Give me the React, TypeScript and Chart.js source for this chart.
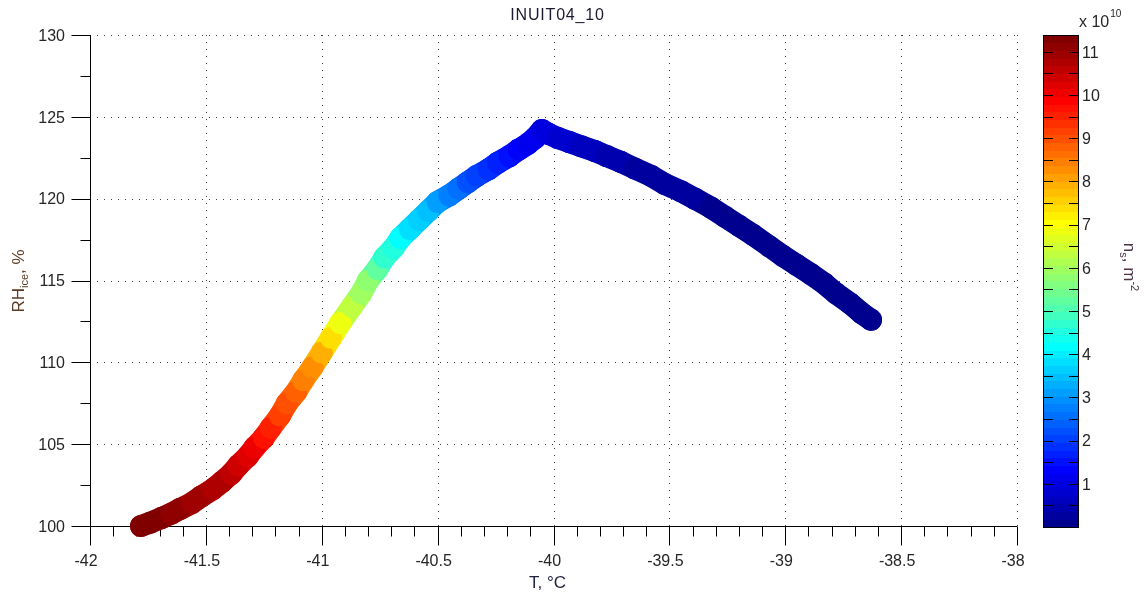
import { useEffect, useRef } from 'react';
import { Chart, registerables } from 'chart.js';

Chart.register(...registerables);

const chartTitle = 'INUIT04_10';

// Temperature (°C)
const temperatureC = [
  -41.78, -41.74, -41.69, -41.65, -41.61, -41.56, -41.52, -41.47, -41.43, -41.39,
  -41.36, -41.32, -41.29, -41.25, -41.22, -41.18, -41.15, -41.11, -41.08, -41.04,
  -41.0, -40.96, -40.92, -40.87, -40.83, -40.8, -40.76, -40.73, -40.69, -40.66,
  -40.62, -40.58, -40.54, -40.5, -40.45, -40.41, -40.37, -40.33, -40.28, -40.24,
  -40.19, -40.15, -40.11, -40.08, -40.05,
  -40.02, -39.98, -39.93, -39.88, -39.82, -39.77, -39.71, -39.65, -39.58, -39.52,
  -39.45, -39.39, -39.32, -39.26, -39.2, -39.14, -39.07, -39.01, -38.95, -38.89,
  -38.83, -38.78, -38.72, -38.67, -38.63,
];

// RH over ice (%)
const rhIce = [
  100.0, 100.2, 100.5, 100.75, 101.05, 101.4, 101.8, 102.25, 102.7, 103.2,
  103.7, 104.25, 104.8, 105.4, 106.0, 106.75, 107.5, 108.2, 108.9, 109.7,
  110.6, 111.5, 112.4, 113.4, 114.2, 115.0, 115.7, 116.4, 117.0, 117.6,
  118.15, 118.7, 119.25, 119.8, 120.2, 120.6, 121.0, 121.4, 121.8, 122.2,
  122.6, 123.0, 123.35, 123.7, 124.2,
  123.95, 123.7, 123.45, 123.2, 122.9, 122.6, 122.25, 121.85, 121.4, 120.9,
  120.45, 120.0, 119.45, 118.9, 118.35, 117.8, 117.1, 116.5, 115.95, 115.4,
  114.8, 114.2, 113.6, 113.0, 112.6,
];

// n_s (x 10^10 m^-2)
const nsE10 = [
  11.39, 11.33, 11.25, 11.17, 11.1, 11.0, 10.9, 10.8, 10.7, 10.55,
  10.4, 10.2, 10.0, 9.75, 9.5, 9.25, 9.0, 8.75, 8.5, 8.2,
  7.85, 7.4, 6.9, 6.4, 6.0, 5.7, 5.2, 4.7, 4.45, 4.2,
  3.9, 3.65, 3.4, 3.1, 2.8, 2.55, 2.3, 2.1, 1.85, 1.65,
  1.5, 1.35, 1.2, 1.08, 0.96,
  0.9, 0.82, 0.74, 0.66, 0.58, 0.5, 0.42, 0.35, 0.28, 0.24,
  0.21, 0.19, 0.17, 0.16, 0.15, 0.14, 0.13, 0.12, 0.11, 0.1,
  0.09, 0.08, 0.07, 0.06, 0.05,
];

const xTickValues = [-42, -41.5, -41, -40.5, -40, -39.5, -39, -38.5, -38];
const xTickLabels = ['-42', '-41.5', '-41', '-40.5', '-40', '-39.5', '-39', '-38.5', '-38'];
const yTickValues = [100, 105, 110, 115, 120, 125, 130];
const yTickLabels = ['100', '105', '110', '115', '120', '125', '130'];
const colorbarTickValues = [1, 2, 3, 4, 5, 6, 7, 8, 9, 10, 11];
const colorbarTickLabels = ['1', '2', '3', '4', '5', '6', '7', '8', '9', '10', '11'];
const colorRange = [0, 11.39];

const FONT = '"Liberation Sans", Arial, Helvetica, sans-serif';

function jet64(): number[][] {
  const m = 64;
  const n = 16;
  const u: number[] = [];
  for (let i = 1; i <= n; i++) u.push(i / n);
  for (let i = 0; i < n - 1; i++) u.push(1);
  for (let i = n; i >= 1; i--) u.push(i / n);
  const g0 = Math.ceil(n / 2) - (m % 4 === 1 ? 1 : 0);
  const J: number[][] = [];
  for (let i = 0; i < m; i++) J.push([0, 0, 0]);
  for (let k = 0; k < u.length; k++) {
    const g = g0 + k + 1;
    const r = g + n;
    const b = g - n;
    if (r >= 1 && r <= m) J[r - 1][0] = u[k];
    if (g >= 1 && g <= m) J[g - 1][1] = u[k];
    if (b >= 1 && b <= m) J[b - 1][2] = u[k];
  }
  return J;
}
const JET = jet64();

function jetIndexColor(idx: number): string {
  const c = JET[Math.max(0, Math.min(63, idx))];
  return `rgb(${Math.round(c[0] * 255)},${Math.round(c[1] * 255)},${Math.round(c[2] * 255)})`;
}
function jetColor(v: number): string {
  const t = (v - colorRange[0]) / (colorRange[1] - colorRange[0]);
  return jetIndexColor(Math.floor(t * 64));
}

const pointColors = nsE10.map(jetColor);

const matlabPlugin = {
  id: 'matlabLook',
  beforeDatasetsDraw(chart: any) {
    const { ctx, chartArea: a, scales } = chart;
    const xs = scales.x;
    const ys = scales.y;
    ctx.save();
    ctx.strokeStyle = '#404040';
    ctx.lineWidth = 1;
    ctx.setLineDash([1, 6]);
    xTickValues.forEach((v, i) => {
      if (i === 0) return;
      const px = Math.round(xs.getPixelForValue(v)) + 0.5;
      ctx.beginPath();
      ctx.moveTo(px, a.bottom);
      ctx.lineTo(px, a.top);
      ctx.stroke();
    });
    yTickValues.forEach((v, i) => {
      if (i === 0) return;
      const py = Math.round(ys.getPixelForValue(v)) + 0.5;
      ctx.beginPath();
      ctx.moveTo(a.left, py);
      ctx.lineTo(a.right, py);
      ctx.stroke();
    });
    ctx.setLineDash([]);
    ctx.strokeStyle = '#000';
    ctx.lineWidth = 1;
    const lx = Math.round(a.left) + 0.5;
    const by = Math.round(a.bottom) + 0.5;
    ctx.beginPath();
    ctx.moveTo(lx, a.top);
    ctx.lineTo(lx, by);
    ctx.lineTo(a.right, by);
    ctx.stroke();
    for (let k = 0; k <= 40; k++) {
      const v = -42 + k * 0.1;
      const px = Math.round(xs.getPixelForValue(v)) + 0.5;
      const len = k % 5 === 0 ? 19 : 10;
      ctx.beginPath();
      ctx.moveTo(px, by);
      ctx.lineTo(px, by + len);
      ctx.stroke();
    }
    for (let k = 0; k <= 12; k++) {
      const v = 100 + k * 2.5;
      const py = Math.round(ys.getPixelForValue(v)) + 0.5;
      const len = k % 2 === 0 ? 19 : 10;
      ctx.beginPath();
      ctx.moveTo(lx, py);
      ctx.lineTo(lx - len, py);
      ctx.stroke();
    }
    ctx.fillStyle = '#262626';
    ctx.font = `16px ${FONT}`;
    ctx.textBaseline = 'alphabetic';
    ctx.textAlign = 'right';
    yTickValues.forEach((v, i) => {
      const py = ys.getPixelForValue(v);
      ctx.fillText(yTickLabels[i], a.left - 25, py + 5.7);
    });
    ctx.textAlign = 'center';
    xTickValues.forEach((v, i) => {
      const px = xs.getPixelForValue(v);
      ctx.fillText(xTickLabels[i], px - 4, a.bottom + 40);
    });
    ctx.restore();
  },
  afterDraw(chart: any) {
    const { ctx, chartArea: a } = chart;
    ctx.save();
    ctx.fillStyle = '#1e1830';
    ctx.font = `16px ${FONT}`;
    ctx.textAlign = 'center';
    ctx.textBaseline = 'alphabetic';
    try { (ctx as any).letterSpacing = '0.8px'; } catch (e) {}
    ctx.fillText(chartTitle, (a.left + a.right) / 2 + 4, 20);
    try { (ctx as any).letterSpacing = '0px'; } catch (e) {}

    ctx.fillStyle = '#1e2240';
    ctx.font = `17px ${FONT}`;
    ctx.fillText('T, °C', (a.left + a.right) / 2 - 6, 588);

    const drawRich = (parts: { t: string; size: number; dy: number }[], cx: number, cy: number, rot: number, color: string) => {
      ctx.save();
      ctx.translate(cx, cy);
      ctx.rotate(rot);
      ctx.fillStyle = color;
      ctx.textAlign = 'left';
      let total = 0;
      parts.forEach((p) => {
        ctx.font = `${p.size}px ${FONT}`;
        total += ctx.measureText(p.t).width;
      });
      let x = -total / 2;
      parts.forEach((p) => {
        ctx.font = `${p.size}px ${FONT}`;
        ctx.fillText(p.t, x, p.dy);
        x += ctx.measureText(p.t).width;
      });
      ctx.restore();
    };
    drawRich(
      [
        { t: 'RH', size: 17, dy: 0 },
        { t: 'ice', size: 11, dy: 4 },
        { t: ', %', size: 17, dy: 0 },
      ],
      23.5, 281, -Math.PI / 2, '#5e3c24'
    );

    const cbL = 1043;
    const cbR = 1079;
    const cbTop = a.top;
    const cbBot = a.bottom + 1;
    const vToY = (v: number) => cbBot - ((v - colorRange[0]) / (colorRange[1] - colorRange[0])) * (cbBot - cbTop);
    for (let i = 0; i < 64; i++) {
      const v0 = colorRange[0] + (i / 64) * (colorRange[1] - colorRange[0]);
      const v1 = colorRange[0] + ((i + 1) / 64) * (colorRange[1] - colorRange[0]);
      const y0 = vToY(v0);
      const y1 = vToY(v1);
      ctx.fillStyle = jetIndexColor(i);
      ctx.fillRect(cbL, Math.floor(y1), cbR - cbL, Math.ceil(y0) - Math.floor(y1));
    }
    ctx.strokeStyle = '#000';
    ctx.lineWidth = 1;
    for (let k = 1; k <= 22; k++) {
      const v = k * 0.5;
      if (v > colorRange[1]) break;
      const py = Math.round(vToY(v)) + 0.5;
      ctx.beginPath();
      ctx.moveTo(cbL, py);
      ctx.lineTo(cbL + 10, py);
      ctx.moveTo(cbR, py);
      ctx.lineTo(cbR - 10, py);
      ctx.stroke();
    }
    ctx.strokeRect(cbL + 0.5, cbTop + 0.5, cbR - cbL - 1, cbBot - cbTop);
    ctx.fillStyle = '#262626';
    ctx.font = `16px ${FONT}`;
    ctx.textAlign = 'left';
    colorbarTickValues.forEach((v, i) => {
      ctx.fillText(colorbarTickLabels[i], cbR + 3, vToY(v) + 5.7);
    });
    ctx.fillText('x 10', cbR, 27);
    const w = ctx.measureText('x 10').width;
    ctx.font = `10px ${FONT}`;
    ctx.fillText('10', cbR + w + 1, 17);

    drawRich(
      [
        { t: 'n', size: 17, dy: 0 },
        { t: 's', size: 11, dy: 4 },
        { t: ', m', size: 17, dy: 0 },
        { t: '-2', size: 11, dy: -7 },
      ],
      1124, 267, Math.PI / 2, '#4a3446'
    );
    ctx.restore();
  },
};

export default function App() {
  const canvasRef = useRef<HTMLCanvasElement | null>(null);

  useEffect(() => {
    const canvas = canvasRef.current;
    if (!canvas) return;
    const data = temperatureC.map((t, i) => ({ x: t, y: rhIce[i] }));
    const chart = new Chart(canvas, {
      type: 'scatter',
      data: {
        datasets: [
          {
            data,
            showLine: true,
            borderWidth: 22,
            borderCapStyle: 'round',
            borderJoinStyle: 'round',
            borderColor: pointColors[0],
            segment: {
              borderColor: (c: any) => pointColors[c.p1DataIndex],
            },
            pointRadius: 11,
            pointBorderWidth: 0,
            pointBackgroundColor: pointColors,
            pointBorderColor: pointColors,
            clip: false,
          } as any,
        ],
      },
      options: {
        animation: false,
        responsive: false,
        events: [],
        layout: { padding: { top: 35, right: 129, left: 0, bottom: 0 } },
        plugins: {
          legend: { display: false },
          tooltip: { enabled: false },
          title: { display: false },
        },
        scales: {
          x: {
            type: 'linear',
            min: -42,
            max: -38,
            grid: { display: false, drawTicks: false },
            border: { display: false },
            ticks: { display: false },
            afterFit: (s: any) => { s.height = 70; },
          },
          y: {
            type: 'linear',
            min: 100,
            max: 130,
            grid: { display: false, drawTicks: false },
            border: { display: false },
            ticks: { display: false },
            afterFit: (s: any) => { s.width = 90; },
          },
        },
      } as any,
      plugins: [matlabPlugin],
    });
    return () => chart.destroy();
  }, []);

  return (
    <div style={{ position: 'fixed', left: 0, top: 0, width: 1146, height: 596, background: '#fff' }}>
      <canvas ref={canvasRef} width={1146} height={596} style={{ display: 'block' }} />
    </div>
  );
}
